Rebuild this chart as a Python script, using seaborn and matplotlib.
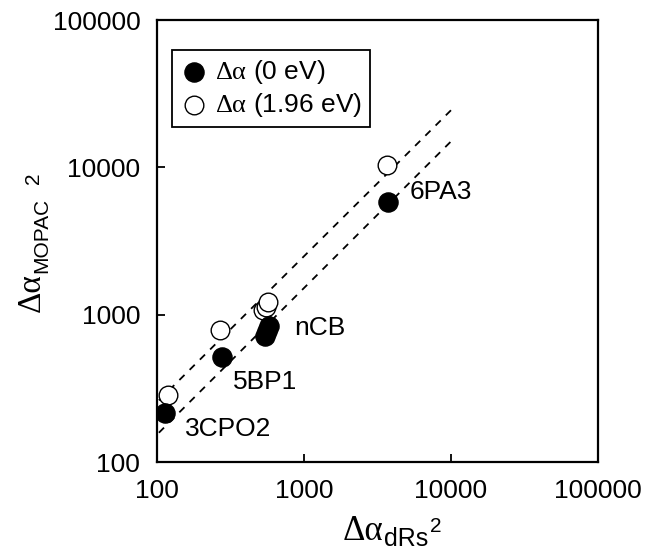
import numpy as np
import pandas as pd
import seaborn as sns
import matplotlib.pyplot as plt

# values (log-log axes)
x_0ev = [113, 277, 543, 560, 578, 3720]
y_0ev = [215, 516, 720, 780, 840, 5820]
x_196ev = [119, 268, 526, 548, 569, 3670]
y_196ev = [285, 787, 1077, 1130, 1218, 10380]

# dashed guide lines (end points)
line_x = [103, 10200]
line_low = [158, 15300]
line_high = [262, 24900]

labels = ["3CPO2", "5BP1", "nCB", "6PA3"]
label_x = [113, 277, 578, 3720]
label_y = [215, 516, 780, 5820]
label_off = [(20, -16), (11, -25), (25, 3), (22, 10)]

ticks = [100, 1000, 10000, 100000]
tick_labels = ["100", "1000", "10000", "100000"]

sns.set_style("ticks")
plt.rcParams["font.family"] = ["Liberation Sans", "DejaVu Sans"]
plt.rcParams["mathtext.fontset"] = "custom"
plt.rcParams["mathtext.rm"] = "Liberation Serif"
plt.rcParams["mathtext.it"] = "Liberation Serif:italic"
plt.rcParams["mathtext.sf"] = "Liberation Sans"
plt.rcParams["text.color"] = "black"
plt.rcParams["axes.edgecolor"] = "black"
plt.rcParams["xtick.color"] = "black"
plt.rcParams["ytick.color"] = "black"

fig = plt.figure(figsize=(6.48, 5.55), dpi=100)
ax = fig.add_axes([157 / 648, 93 / 555, 441 / 648, 442 / 555])

lab0 = r"$\mathrm{\Delta\alpha}$ (0 eV)"
lab1 = r"$\mathrm{\Delta\alpha}$ (1.96 eV)"
df = pd.DataFrame({
    "x": x_0ev + x_196ev,
    "y": y_0ev + y_196ev,
    "series": [lab0] * len(x_0ev) + [lab1] * len(x_196ev),
})

for ys in [line_low, line_high]:
    sns.lineplot(x=line_x, y=ys, ax=ax, color="black", lw=1.3,
                 linestyle=(0, (4, 4)), legend=False)

sns.scatterplot(data=df[df.series == lab1], x="x", y="y", ax=ax,
                color="white", edgecolor="black", linewidth=1.0, s=180,
                label=lab1, zorder=3)
sns.scatterplot(data=df[df.series == lab0], x="x", y="y", ax=ax,
                color="black", edgecolor="black", linewidth=1.0, s=190,
                label=lab0, zorder=4)

for name, lx, ly, off in zip(labels, label_x, label_y, label_off):
    ax.annotate(name, (lx, ly), xytext=off, textcoords="offset pixels",
                fontsize=19, va="center", ha="left")

ax.set_xscale("log")
ax.set_yscale("log")
ax.set_xlim(100, 100000)
ax.set_ylim(100, 100000)
ax.set_xticks(ticks)
ax.set_yticks(ticks)
ax.set_xticklabels(tick_labels)
ax.set_yticklabels(tick_labels)
ax.minorticks_off()
ax.tick_params(direction="in", length=6, width=1.3, labelsize=19, pad=12,
               top=False, right=False)
for sp in ax.spines.values():
    sp.set_linewidth(1.6)
    sp.set_visible(True)
ax.set_xlabel("")
ax.set_ylabel("")

# x axis title: Δα, subscript dRs, superscript 2
xa = ax.annotate("Δα", xy=(186, -78), xycoords="axes pixels",
                 family="Liberation Serif", fontsize=25, ha="left", va="baseline")
xb = ax.annotate("dRs", xy=(1, 0), xycoords=xa, xytext=(0, -3),
                 textcoords="offset pixels", fontsize=18, ha="left", va="bottom")
ax.annotate("2", xy=(1, 1), xycoords=xb, xytext=(2, 0),
            textcoords="offset pixels", fontsize=15, ha="left", va="center")

# y axis title: Δα, subscript MOPAC, superscript 2
ya = ax.annotate("Δα", xy=(-110, 150), xycoords="axes pixels", rotation=90,
                 family="Liberation Serif", fontsize=24, ha="right", va="bottom")
yb = ax.annotate("MOPAC", xy=(1, 1), xycoords=ya, xytext=(4, 0),
                 textcoords="offset pixels", rotation=90, fontsize=15,
                 ha="right", va="bottom")
ax.annotate("2", xy=(0, 1), xycoords=yb, xytext=(2, 14),
            textcoords="offset pixels", rotation=90, fontsize=15,
            ha="center", va="bottom")

handles, lbls = ax.get_legend_handles_labels()
order = [1, 0]
leg = ax.legend([handles[i] for i in order], [lbls[i] for i in order],
                loc="upper left", bbox_to_anchor=(0.035, 0.932), fontsize=19,
                frameon=True, fancybox=False, edgecolor="black", framealpha=1,
                handletextpad=0.3, borderpad=0.3, labelspacing=0.2,
                handlelength=1.0, borderaxespad=0)
leg.get_frame().set_linewidth(1.3)

fig.savefig("out.png", dpi=100)
